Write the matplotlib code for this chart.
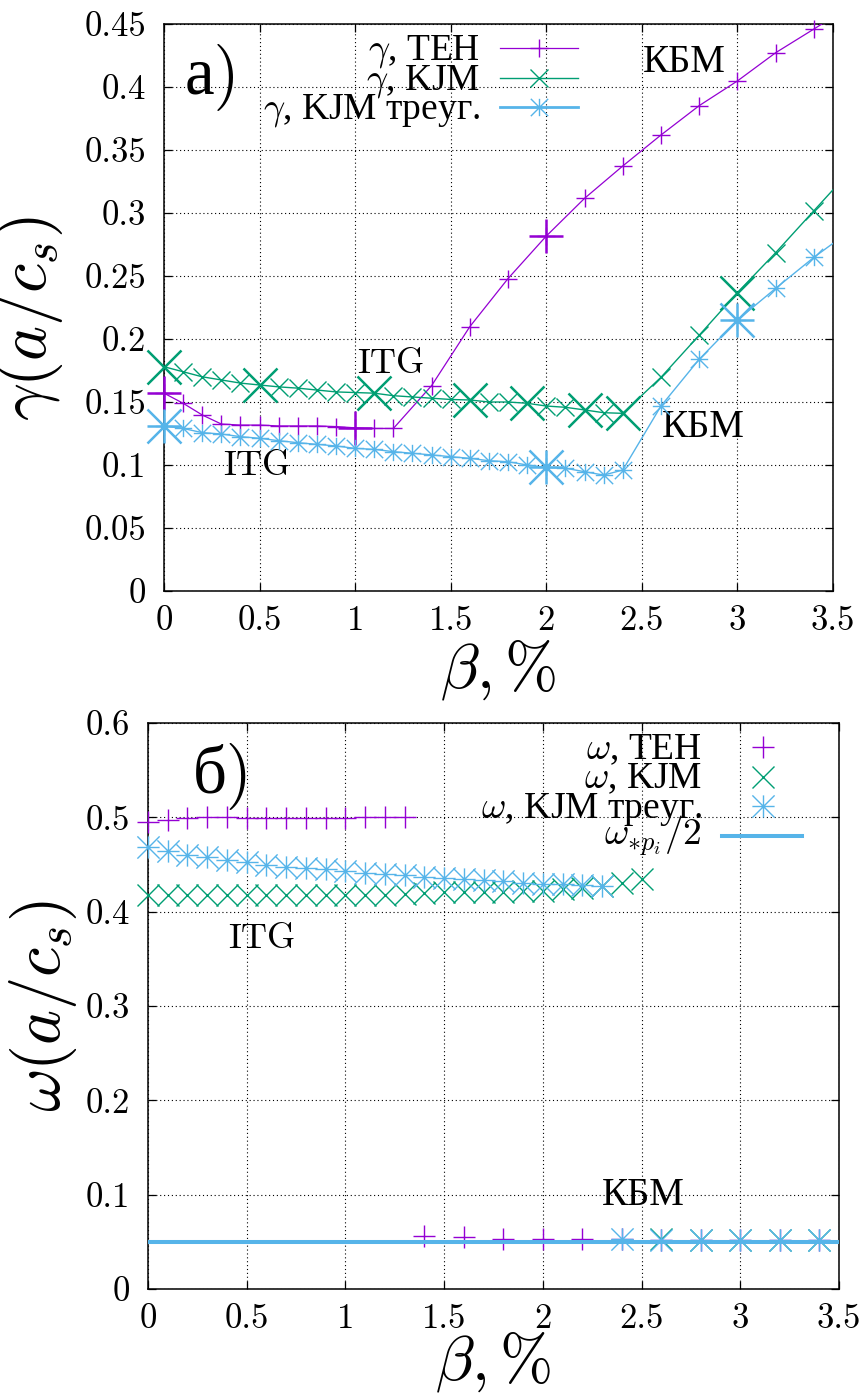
import numpy as np
import matplotlib
matplotlib.use("Agg")
import matplotlib.pyplot as plt
from matplotlib.path import Path
from matplotlib.ticker import FuncFormatter, MultipleLocator

plt.rcParams['font.family'] = ['cmr10', 'Liberation Serif']
plt.rcParams['mathtext.fontset'] = 'cm'
plt.rcParams['axes.unicode_minus'] = False

# ---------------- growth rate gamma(beta) ----------------
beta_teh = [0.0, 0.1, 0.2, 0.3, 0.4, 0.5, 0.6, 0.7, 0.8, 0.9, 1.0, 1.1, 1.2,
            1.4, 1.6, 1.8, 2.0, 2.2, 2.4, 2.6, 2.8, 3.0, 3.2, 3.4, 3.6]
gamma_teh = [0.157, 0.149, 0.1397, 0.1325, 0.1317, 0.1317, 0.131, 0.131, 0.131,
             0.1305, 0.1295, 0.129, 0.129,
             0.163, 0.2098, 0.248, 0.2817, 0.3116, 0.3373, 0.3619, 0.3852,
             0.4048, 0.4272, 0.446, 0.465]
beta_teh_big = [0.0, 1.0, 2.0]
gamma_teh_big = [0.157, 0.1295, 0.2817]

beta_kjm = [0.0, 0.1, 0.2, 0.3, 0.4, 0.5, 0.6, 0.7, 0.8, 0.9, 1.0, 1.1, 1.2,
            1.3, 1.4, 1.5, 1.6, 1.7, 1.8, 1.9, 2.0, 2.1, 2.2, 2.3, 2.4,
            2.6, 2.8, 3.0, 3.2, 3.4, 3.6]
gamma_kjm = [0.178, 0.174, 0.170, 0.1675, 0.165, 0.1635, 0.162, 0.161, 0.1595,
             0.158, 0.1575, 0.157, 0.155, 0.154, 0.153, 0.152, 0.1516, 0.150,
             0.150, 0.149, 0.1468, 0.1458, 0.1437, 0.1415, 0.141,
             0.1696, 0.203, 0.2368, 0.2685, 0.3018, 0.335]
beta_kjm_big = [0.0, 0.5, 1.1, 1.6, 1.9, 2.2, 2.4, 3.0]
gamma_kjm_big = [0.178, 0.1635, 0.157, 0.1516, 0.149, 0.1437, 0.141, 0.2368]

beta_tri = [0.0, 0.1, 0.2, 0.3, 0.4, 0.5, 0.6, 0.7, 0.8, 0.9, 1.0, 1.1, 1.2,
            1.3, 1.4, 1.5, 1.6, 1.7, 1.8, 1.9, 2.0, 2.1, 2.2, 2.3, 2.4,
            2.6, 2.8, 3.0, 3.2, 3.4, 3.6]
gamma_tri = [0.131, 0.129, 0.1257, 0.1246, 0.1225, 0.1212, 0.1193, 0.1177,
             0.1164, 0.1151, 0.1132, 0.1124, 0.1106, 0.1093, 0.108, 0.1066,
             0.1053, 0.1034, 0.1026, 0.100, 0.0981, 0.0974, 0.0947, 0.092,
             0.096, 0.1468, 0.1839, 0.215, 0.2402, 0.2648, 0.287]
beta_tri_big = [0.0, 2.0, 3.0]
gamma_tri_big = [0.131, 0.0981, 0.215]

# ---------------- real frequency omega(beta) ----------------
beta_w_teh = [0.0, 0.1, 0.2, 0.3, 0.4, 0.5, 0.6, 0.7, 0.8, 0.9, 1.0, 1.1, 1.2,
              1.3, 1.4, 1.6, 1.8, 2.0, 2.2, 2.4, 2.6, 2.8, 3.0, 3.2, 3.4]
omega_teh = [0.495, 0.4975, 0.499, 0.5, 0.5, 0.4995, 0.499, 0.499, 0.4993,
             0.4995, 0.4995, 0.5, 0.5, 0.5005,
             0.056, 0.0546, 0.0535, 0.0532, 0.0528, 0.0525, 0.0523, 0.0522,
             0.0521, 0.052, 0.052]

beta_w_kjm = [0.0, 0.1, 0.2, 0.3, 0.4, 0.5, 0.6, 0.7, 0.8, 0.9, 1.0, 1.1,
              1.2, 1.3, 1.4, 1.5, 1.6, 1.7, 1.8, 1.9, 2.0, 2.1, 2.2, 2.3,
              2.4, 2.5, 2.6, 2.8, 3.0, 3.2, 3.4]
omega_kjm = [0.4174, 0.4174, 0.4174, 0.4174, 0.4174, 0.4174, 0.4174, 0.4174,
             0.4174, 0.4174, 0.4174, 0.4174, 0.418, 0.419, 0.420, 0.4205,
             0.421, 0.421, 0.4212, 0.4215, 0.422, 0.4235, 0.425, 0.427,
             0.430, 0.435, 0.0525, 0.0522, 0.0522, 0.0521, 0.052]

beta_w_tri = [0.0, 0.1, 0.2, 0.3, 0.4, 0.5, 0.6, 0.7, 0.8, 0.9, 1.0, 1.1,
              1.2, 1.3, 1.4, 1.5, 1.6, 1.7, 1.8, 1.9, 2.0, 2.1, 2.2, 2.3,
              2.4, 2.6, 2.8, 3.0, 3.2, 3.4]
omega_tri = [0.4686, 0.464, 0.4604, 0.458, 0.455, 0.4527, 0.4498, 0.4473,
             0.4463, 0.445, 0.443, 0.441, 0.4403, 0.4386, 0.4368, 0.436,
             0.435, 0.434, 0.4322, 0.4308, 0.4297, 0.429, 0.428, 0.4269,
             0.0525, 0.0524, 0.0522, 0.0521, 0.0521, 0.052]

omega_star_half = 0.05

x_ticks = [0, 0.5, 1, 1.5, 2, 2.5, 3, 3.5]

PURPLE = '#9400D3'
GREEN = '#009E73'
CYAN = '#56B4E9'

# gnuplot-style asterisk: "+" and "x" drawn together
ASTERISK = Path([(-1, 0), (1, 0), (0, -1), (0, 1),
                 (-1, -1), (1, 1), (-1, 1), (1, -1)],
                [Path.MOVETO, Path.LINETO] * 4)

LEG_FS = 27

fig = plt.figure(figsize=(8.59, 13.94), dpi=100)
ax1 = fig.add_axes([164 / 859, 1 - 591 / 1394, 669 / 859, 567 / 1394])
ax2 = fig.add_axes([148 / 859, 1 - 1289 / 1394, 691 / 859, 566 / 1394])

gfmt = FuncFormatter(lambda v, p: f'{v:g}')


def style_axes(ax, ymax, ystep):
    ax.set_xlim(0, 3.5)
    ax.set_ylim(0, ymax)
    ax.set_xticks(x_ticks)
    ax.yaxis.set_major_locator(MultipleLocator(ystep))
    ax.xaxis.set_major_formatter(gfmt)
    ax.yaxis.set_major_formatter(gfmt)
    ax.tick_params(direction='in', length=5.8, width=0.9, top=True,
                   right=True, labelsize=25)
    ax.tick_params(axis='x', pad=10)
    ax.tick_params(axis='y', pad=13)
    ax.set_axisbelow(True)
    ax.grid(True, color='black', linestyle=(0, (1, 2.5)), linewidth=0.8)
    for s in ax.spines.values():
        s.set_linewidth(1.1)


def series(ax, x, y, color, marker, ms, mew, lw, z, xmax=3.5):
    x = np.asarray(x)
    y = np.asarray(y)
    if lw:
        ax.plot(x, y, color=color, lw=lw, zorder=z)
    keep = x <= xmax
    ax.plot(x[keep], y[keep], ls='none', marker=marker, ms=ms, mew=mew,
            color=color, clip_on=False, zorder=z)


def legend_row(ax, yfrac, label, color, marker, ms, mew, xr, x0, x1,
               lw=None, base_off=0.021, marker_x=None):
    ax.text(xr, yfrac - base_off, label, transform=ax.transAxes, ha='right',
            va='baseline', fontsize=LEG_FS, family='Liberation Serif',
            zorder=6)
    if lw:
        ax.plot([x0, x1], [yfrac, yfrac], transform=ax.transAxes, color=color,
                lw=lw, clip_on=False, zorder=6)
    if marker is not None:
        mx = marker_x if marker_x is not None else 0.5 * (x0 + x1)
        ax.plot([mx], [yfrac], transform=ax.transAxes, ls='none',
                marker=marker, ms=ms, mew=mew, color=color, clip_on=False,
                zorder=6)


# ---------------- panel a) ----------------
style_axes(ax1, 0.45, 0.05)
series(ax1, beta_teh, gamma_teh, PURPLE, '+', 12.5, 1.0, 0.9, 3)
series(ax1, beta_teh_big, gamma_teh_big, PURPLE, '+', 24.5, 1.8, None, 3)
series(ax1, beta_kjm, gamma_kjm, GREEN, 'x', 12.5, 1.0, 1.0, 3.1)
series(ax1, beta_kjm_big, gamma_kjm_big, GREEN, 'x', 24.5, 1.8, None, 3.1)
series(ax1, beta_tri, gamma_tri, CYAN, ASTERISK, 12.5, 1.0, 1.0, 3.2)
series(ax1, beta_tri_big, gamma_tri_big, CYAN, ASTERISK, 24.5, 1.8, None, 3.2)

lx_r, lx0, lx1 = 0.4723, 0.5022, 0.6188
legend_row(ax1, 0.9577, r'$\gamma$, TEH', PURPLE, '+', 12.5, 1.0,
           lx_r, lx0, lx1, lw=0.9)
legend_row(ax1, 0.9048, r'$\gamma$, KJM', GREEN, 'x', 12.5, 1.0,
           lx_r, lx0, lx1, lw=1.0)
legend_row(ax1, 0.8536, r'$\gamma$, KJM треуг.', CYAN, ASTERISK, 12.5, 1.0,
           lx_r, lx0, lx1, lw=2.0)

ax1.text(0.11, 0.395, 'а)', fontsize=48)
ax1.text(1.01, 0.1728, 'ITG', fontsize=26)
ax1.text(0.309, 0.092, 'ITG', fontsize=26)
ax1.text(2.505, 0.4121, 'КБМ', fontsize=28)
ax1.text(2.603, 0.1225, 'КБМ', fontsize=28)

ax1.set_xlabel(r'$\beta, \%$', fontsize=46)
ax1.xaxis.set_label_coords(0.5, -0.083)
ax1.set_ylabel(r'$\gamma(a/c_s)$', fontsize=48)
ax1.yaxis.set_label_coords(-0.148, 0.48)

# ---------------- panel б) ----------------
style_axes(ax2, 0.6, 0.1)
series(ax2, beta_w_teh, omega_teh, PURPLE, '+', 16, 1.0, None, 3)
series(ax2, beta_w_kjm, omega_kjm, GREEN, 'x', 16, 1.0, None, 3.1)
series(ax2, beta_w_tri, omega_tri, CYAN, ASTERISK, 16, 1.0, None, 3.2)
ax2.axhline(omega_star_half, color=CYAN, lw=2.9, zorder=3.3)

lx_r, lx0, lx1, lxm = 0.8014, 0.8307, 0.9465, 0.8894
legend_row(ax2, 0.9576, r'$\omega$, TEH', PURPLE, '+', 16, 1.0,
           lx_r, lx0, lx1, marker_x=lxm)
legend_row(ax2, 0.9050, r'$\omega$, KJM', GREEN, 'x', 16, 1.0,
           lx_r, lx0, lx1, marker_x=lxm)
legend_row(ax2, 0.8534, r'$\omega$, KJM треуг.', CYAN, ASTERISK, 16, 1.0,
           lx_r, lx0, lx1, marker_x=lxm)
legend_row(ax2, 0.8005, r'$\omega_{*p_i}/2$', CYAN, None, 0, 0,
           lx_r, lx0, lx1, lw=2.9, base_off=0.016)

ax2.text(0.228, 0.5268, 'б)', fontsize=48)
ax2.text(0.405, 0.361, 'ITG', fontsize=26)
ax2.text(2.30, 0.089, 'КБМ', fontsize=28)

ax2.set_xlabel(r'$\beta, \%$', fontsize=46)
ax2.xaxis.set_label_coords(0.5, -0.072)
ax2.set_ylabel(r'$\omega(a/c_s)$', fontsize=48)
ax2.yaxis.set_label_coords(-0.100, 0.50)

fig.savefig('out.png', dpi=100)
